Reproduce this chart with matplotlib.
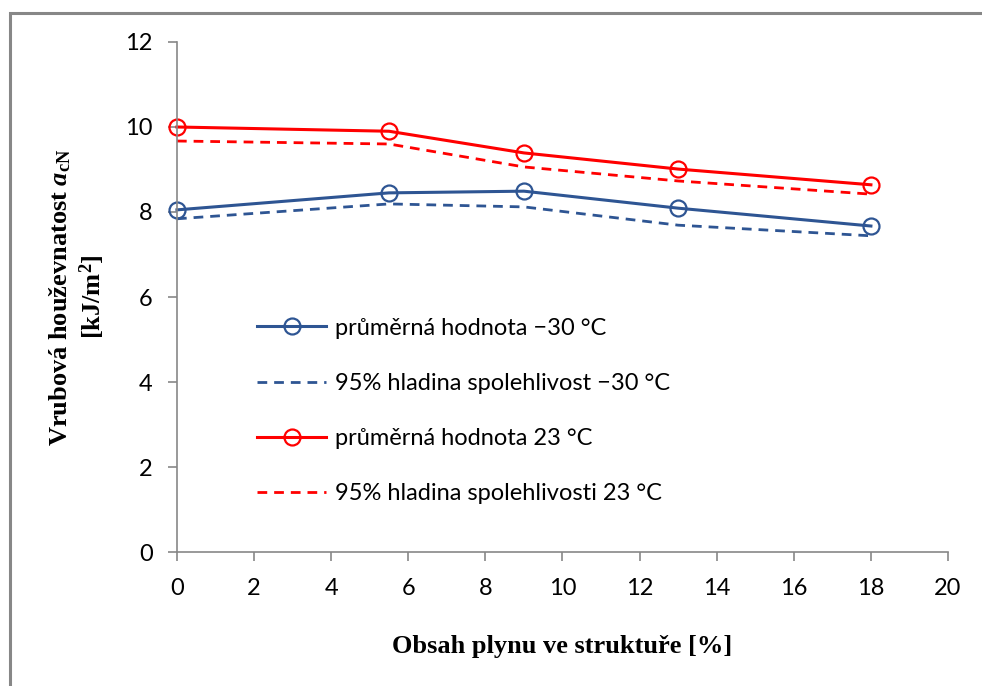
import matplotlib
matplotlib.use("Agg")
import matplotlib.pyplot as plt
from matplotlib.patches import Rectangle

# Gas content in the structure [%]
gas_content = [0, 5.5, 9, 13, 18]

# Notch impact strength a_cN [kJ/m2]
mean_m30 = [8.05, 8.45, 8.49, 8.09, 7.67]
conf95_m30 = [7.84, 8.19, 8.12, 7.69, 7.44]
mean_23 = [10.0, 9.9, 9.39, 9.01, 8.64]
conf95_23 = [9.67, 9.60, 9.06, 8.73, 8.42]

labels = [
    "průměrná hodnota \u221230 °C",
    "95% hladina spolehlivost \u221230 °C",
    "průměrná hodnota 23 °C",
    "95% hladina spolehlivosti 23 °C",
]

x_ticks = list(range(0, 21, 2))
y_ticks = list(range(0, 13, 2))

plt.rcParams["mathtext.fontset"] = "custom"
plt.rcParams["mathtext.rm"] = "Liberation Serif:bold"
plt.rcParams["mathtext.it"] = "Liberation Serif:italic:bold"
plt.rcParams["mathtext.bf"] = "Liberation Serif:bold"

BLUE = "#2E5593"
RED = "#FF0000"
GRAY = "#878787"
tick_font = "Lato"
tick_size = 17

fig = plt.figure(figsize=(9.82, 6.86), dpi=100)
ax = fig.add_axes([0.1802, 0.1953, 0.9654 - 0.1802, 0.9388 - 0.1953])

marker_kw = dict(marker="o", markersize=11.5, markerfacecolor="none",
                 markeredgewidth=1.6)
ax.plot(gas_content, mean_m30, color=BLUE, lw=2.2, label=labels[0],
        markeredgecolor=BLUE, **marker_kw)
ax.plot(gas_content, conf95_m30, color=BLUE, lw=2.0, dashes=(3.5, 2.5),
        label=labels[1])
ax.plot(gas_content, mean_23, color=RED, lw=2.2, label=labels[2],
        markeredgecolor=RED, **marker_kw)
ax.plot(gas_content, conf95_23, color=RED, lw=2.0, dashes=(3.5, 2.5),
        label=labels[3])

ax.set_xlim(0, 20)
ax.set_ylim(0, 12)
ax.set_xticks(x_ticks)
ax.set_yticks(y_ticks)
ax.set_xticklabels([str(v) for v in x_ticks], fontfamily=tick_font,
                   fontsize=tick_size)
ax.set_yticklabels([str(v) for v in y_ticks], fontfamily=tick_font,
                   fontsize=tick_size)

for side in ("top", "right"):
    ax.spines[side].set_visible(False)
for side in ("left", "bottom"):
    ax.spines[side].set_color(GRAY)
    ax.spines[side].set_linewidth(1.2)
    ax.spines[side].set_clip_on(False)
ax.tick_params(axis="both", direction="out", length=6.5, width=1.2,
               color=GRAY, labelcolor="black")
ax.tick_params(axis="x", pad=12)
ax.tick_params(axis="y", pad=11)
for line in ax.get_lines():
    line.set_clip_on(False)

ax.set_xlabel("Obsah plynu ve struktuře [%]", fontfamily="Liberation Serif",
              fontweight="bold", fontsize=19, labelpad=26)
ax.set_ylabel("Vrubová houževnatost $\\mathit{a}_{\\mathrm{cN}}$\n[kJ/m$^{2}$]",
              fontfamily="Liberation Serif", fontweight="bold", fontsize=19,
              labelpad=13, linespacing=1.2)

leg = ax.legend(loc="upper left", bbox_to_anchor=(0.262, 0.537),
                bbox_transform=fig.transFigure, frameon=False,
                prop={"family": tick_font, "size": tick_size},
                handlelength=2.9, handletextpad=0.4, labelspacing=1.45,
                borderpad=0, borderaxespad=0)

# Chart frame around the figure
fig.patches.append(Rectangle((10, -100), 1100, 773, transform=None,
                             fill=False, edgecolor=GRAY, linewidth=2.2))

fig.savefig("out.png", dpi=100)
